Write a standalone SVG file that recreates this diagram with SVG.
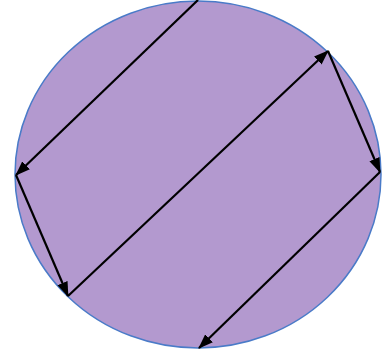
<svg xmlns="http://www.w3.org/2000/svg" width="382" height="354" viewBox="0 0 382 354">
<defs>
<style>
.c{stroke:#000;stroke-width:2.2;fill:none;marker-end:url(#ah)}
</style>
<marker id="ah" markerUnits="userSpaceOnUse" markerWidth="15" markerHeight="11" refX="14" refY="5.5" orient="auto" viewBox="0 0 15 11">
<path d="M0,0 L15,5.5 L0,11 Z" fill="#000"/>
</marker>
</defs>
<rect width="382" height="354" fill="#fff"/>
<g id="circle">
<ellipse cx="198" cy="174.5" rx="183" ry="173.5" fill="#B399CF" stroke="#4A7BC8" stroke-width="1.5"/>
</g>
<g id="connectors">
<line class="c" x1="198" y1="0" x2="16" y2="175"/>
<line class="c" x1="16" y1="175" x2="68" y2="296"/>
<line class="c" x1="68" y1="296" x2="328" y2="51"/>
<line class="c" x1="328" y1="51" x2="380" y2="172"/>
<line class="c" x1="380" y1="172" x2="199" y2="348"/>
</g>
</svg>
